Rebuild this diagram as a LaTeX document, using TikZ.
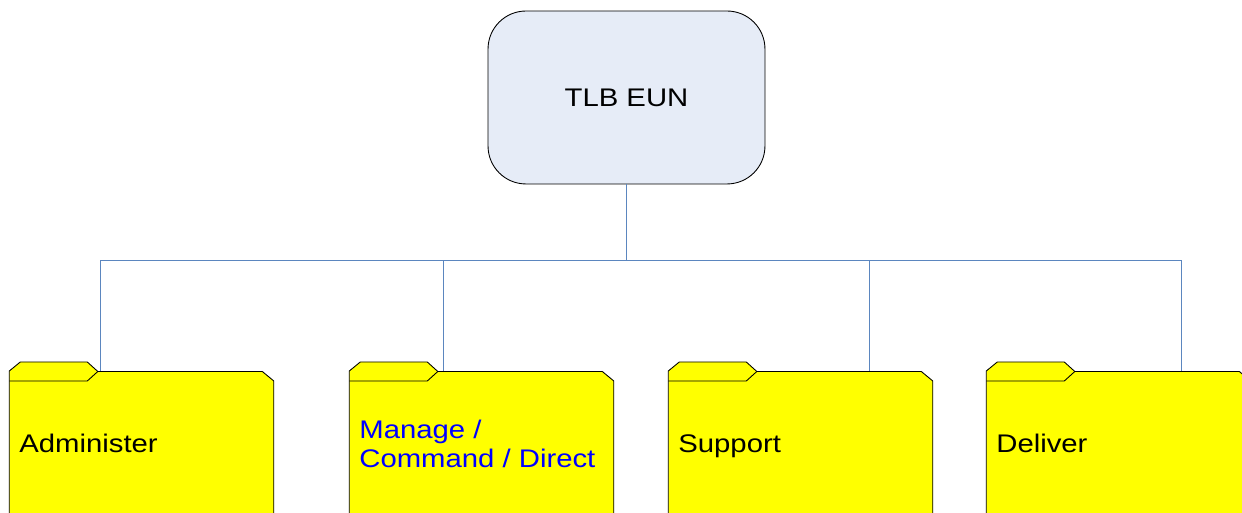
\documentclass[tikz,border=0pt]{standalone}
\usepackage{fontspec}
\usepackage{xcolor}
\usepackage{tikz}
\setmainfont[FakeStretch=1.15]{Liberation Sans}
\definecolor{rootfill}{HTML}{E6ECF7}
\definecolor{folderfill}{HTML}{FFFF00}
\definecolor{conncolor}{HTML}{5B86BF}
\definecolor{textblue}{HTML}{0000FF}
\tikzset{
  rootbox/.style={draw=black, fill=rootfill, line width=0.5pt, rounded corners=0.76cm,
    minimum width=5.54cm, minimum height=3.46cm, inner sep=0pt, outer sep=0pt,
    font=\fontsize{14.5}{17}\selectfont},
  folderline/.style={draw=black, line width=0.5pt, line join=miter},
  conn/.style={draw=conncolor, line width=0.45pt},
  lbl/.style={anchor=base west, inner sep=0pt, align=left,
    font=\fontsize{14.5}{16.8}\selectfont}
}
% folder at left edge #1, connector coordinate #2 at offset #3
\newcommand{\folderbox}[3]{
  \draw[folderline, fill=folderfill, shift={(#1,0)}]
    (0,-10) -- (0,142) -- (11,151) -- (78,151) -- (88.5,141.5) -- (253,141.5)
    -- (264.5,132) -- (264.5,-10) -- cycle;
  \draw[folderline, shift={(#1,0)}] (0,132) -- (78,132) -- (88.5,141.5);
  \coordinate (#2) at (#1+#3,141.5);
}
\begin{document}
\begin{tikzpicture}[x=0.02cm,y=0.02cm]
  \useasboundingbox (0,0) rectangle (1242,513);
  \clip (0,0) rectangle (1242,513);

  \node[rootbox] (root) at (626.5,415.5) {TLB EUN};
  \coordinate (bus) at (626.5,253);

  % folders
  \folderbox{9.3}{admintop}{90.7}
  \folderbox{349.3}{managetop}{93.7}
  \folderbox{668.3}{supporttop}{200.7}
  \folderbox{986.3}{delivertop}{194.7}

  \node[lbl] (admin) at (19,60) {Administer};
  \node[lbl, text=textblue] (manage) at (359,45) {Manage /\\Command / Direct};
  \node[lbl] (support) at (678,60) {Support};
  \node[lbl] (deliver) at (996,60) {Deliver};

  % connectors
  \draw[conn] (root.south) -- (bus);
  \foreach \t in {admintop,managetop,supporttop,delivertop}
    \draw[conn] (bus) -| (\t);
\end{tikzpicture}
\end{document}
